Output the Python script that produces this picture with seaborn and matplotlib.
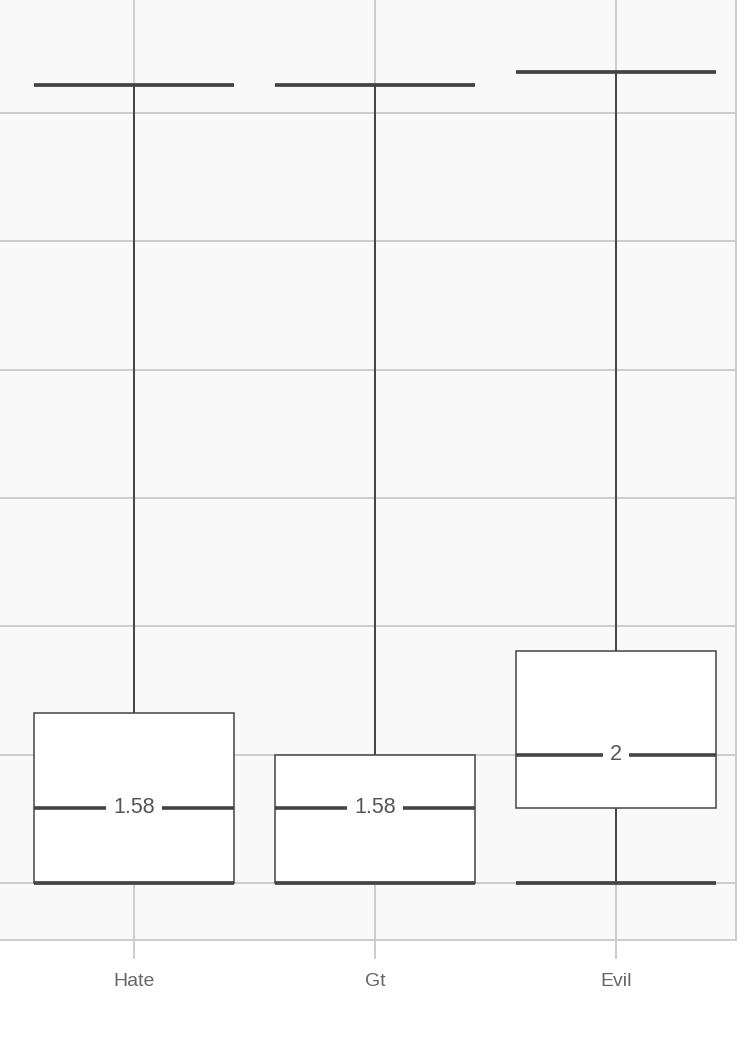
import numpy as np
import pandas as pd
import seaborn as sns
import matplotlib.pyplot as plt

sns.set_theme(style="whitegrid")
plt.rcParams["font.family"] = ["Liberation Sans", "DejaVu Sans"]

# values (log2 scale)
categories = ["Hate", "Gt", "Evil"]
hate = [1.0, 1.0, 1.585, 2.322, 7.219]
gt = [1.0, 1.0, 1.585, 2.0, 7.219]
evil = [1.0, 1.585, 2.0, 2.807, 7.322]
grid_vals = [1, 2, 3, 4, 5, 6, 7]

df = pd.DataFrame({
    "group": np.repeat(categories, [len(hate), len(gt), len(evil)]),
    "value": hate + gt + evil,
})

fig = plt.figure(figsize=(7.54, 10.38), dpi=100)
ax = fig.add_axes([0, 1 - 940 / 1038, 736 / 754, 940 / 1038])
ax.set_facecolor("#f9f9f9")

line_col = "#444444"
sns.boxplot(
    data=df, x="group", y="value", order=categories, ax=ax,
    color="white", saturation=1, linecolor=line_col, linewidth=1.1,
    width=0.83, whis=(0, 100), showfliers=False,
    capwidths=0.83,
    capprops={"linewidth": 2.7, "solid_capstyle": "butt"},
    medianprops={"linewidth": 2.6},
    whiskerprops={"linewidth": 1.4},
)

# median labels
for i, vals in enumerate([hate, gt, evil]):
    med = np.median(vals)
    ax.text(i, med, f"{round(med, 2):g}", ha="center", va="center",
            fontsize=15.5, color="#555555", zorder=10,
            bbox=dict(boxstyle="square,pad=0.33", fc="white", ec="none"))

ax.set_xlim(-0.556, 2.498)
ax.set_ylim(1 - 57 / 128.33, 1 + 883 / 128.33)
ax.set_yticks(grid_vals)
ax.set_yticklabels([])
ax.tick_params(axis="y", length=0, left=False)
ax.tick_params(axis="x", bottom=True, length=13.7, width=1.4, color="#cccccc",
               labelsize=14, labelcolor="#666666", pad=10)
ax.grid(True, color="#cccccc", linewidth=1.4)
ax.set_axisbelow(True)
ax.set_xlabel("")
ax.set_ylabel("")
for side in ["left", "top"]:
    ax.spines[side].set_visible(False)
for side in ["right", "bottom"]:
    ax.spines[side].set_color("#cccccc")
    ax.spines[side].set_linewidth(1.4)

fig.savefig("out.png", dpi=100, facecolor="white")
